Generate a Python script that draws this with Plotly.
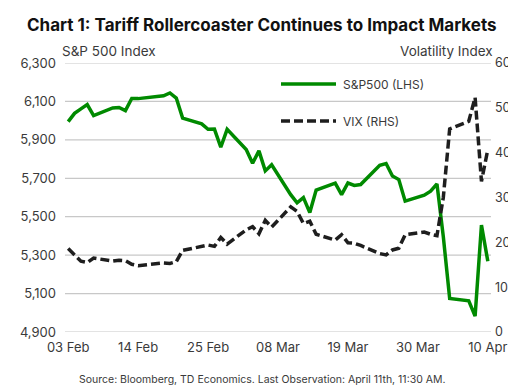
import plotly.graph_objects as go

dates = ["2025-02-03","2025-02-04","2025-02-05","2025-02-06","2025-02-07",
         "2025-02-10","2025-02-11","2025-02-12","2025-02-13","2025-02-14",
         "2025-02-18","2025-02-19","2025-02-20","2025-02-21",
         "2025-02-24","2025-02-25","2025-02-26","2025-02-27","2025-02-28",
         "2025-03-03","2025-03-04","2025-03-05","2025-03-06","2025-03-07",
         "2025-03-10","2025-03-11","2025-03-12","2025-03-13","2025-03-14",
         "2025-03-17","2025-03-18","2025-03-19","2025-03-20","2025-03-21",
         "2025-03-24","2025-03-25","2025-03-26","2025-03-27","2025-03-28",
         "2025-03-31","2025-04-01","2025-04-02","2025-04-03","2025-04-04",
         "2025-04-07","2025-04-08","2025-04-09","2025-04-10"]

sp500 = [5994.6,6037.9,6061.5,6083.6,6026.0,
         6066.4,6068.5,6052.0,6115.1,6114.6,
         6129.6,6144.2,6117.5,6013.1,
         5983.3,5955.3,5956.1,5861.6,5954.5,
         5849.7,5778.2,5842.6,5738.5,5770.2,
         5614.6,5572.1,5599.3,5521.5,5638.9,
         5675.1,5614.7,5675.3,5662.9,5667.6,
         5767.6,5776.7,5712.2,5693.3,5580.9,
         5611.9,5633.1,5671.0,5396.5,5074.1,
         5062.3,4982.8,5456.9,5268.1]

vix = [18.6,17.2,15.8,15.5,16.5,
       15.8,16.0,15.9,15.1,14.8,
       15.4,15.3,15.7,18.2,
       19.0,19.4,19.1,21.1,19.6,
       22.8,23.5,21.9,24.9,23.4,
       27.9,26.9,24.2,24.7,21.8,
       20.5,21.7,19.9,19.8,19.3,
       17.5,17.2,18.3,18.7,21.7,
       22.3,21.8,21.5,30.0,45.3,
       47.0,52.3,33.6,40.7]

sp_ticks = [4900, 5100, 5300, 5500, 5700, 5900, 6100, 6300]

tick_dates = ["2025-02-03","2025-02-14","2025-02-25","2025-03-08",
              "2025-03-19","2025-03-30","2025-04-10"]
tick_labels = ["03 Feb","14 Feb","25 Feb","08 Mar","19 Mar","30 Mar","10 Apr"]

GREEN = "#008a00"
DARK = "#1e1e1e"
TXT = "#3a3a3a"
FONT = "Inter"

fig = go.Figure()
fig.add_trace(go.Scatter(x=dates, y=sp500, mode="lines", name="S&P500 (LHS)",
                         line=dict(color=GREEN, width=3.5), yaxis="y"))
fig.add_trace(go.Scatter(x=dates, y=vix, mode="lines", name="VIX (RHS)",
                         line=dict(color=DARK, width=3.5, dash="9px,4px"), yaxis="y2"))

L, R, T, B = 57, 33, 55, 62
W, H = 516, 386
pw = W - L - R
ph = H - T - B

def px(xp):
    return (xp - L) / pw

def py(yp):
    return (H - B - yp) / ph

fig.update_layout(
    width=W, height=H,
    margin=dict(l=L, r=R, t=T, b=B, autoexpand=False),
    paper_bgcolor="white", plot_bgcolor="white",
    showlegend=False,
    font=dict(family=FONT, color=TXT, size=13),
    xaxis=dict(type="date", range=["2025-02-02 12:00", "2025-04-10 12:00"],
               tickvals=tick_dates, ticktext=tick_labels,
               showgrid=False, zeroline=False, showline=False,
               ticks="", ticklabelstandoff=6,
               tickfont=dict(size=13, color=TXT, family=FONT)),
    yaxis=dict(range=[4900, 6300], tickvals=sp_ticks, tickformat=",",
               showgrid=False, zeroline=False, showline=False, ticks="",
               ticklabelstandoff=8,
               tickfont=dict(size=13, color=TXT, family=FONT)),
    yaxis2=dict(range=[0, 60], tick0=0, dtick=10, overlaying="y", side="right",
                showgrid=False, zeroline=False, showline=False, ticks="",
                ticklabelstandoff=3,
                tickfont=dict(size=12.5, color=TXT, family=FONT)),
)

annotations = [
    dict(text="<b>Chart 1: Tariff Rollercoaster Continues to Impact Markets</b>",
         xref="paper", yref="paper", x=px(254), y=py(17), xanchor="center", yanchor="middle",
         showarrow=False, font=dict(size=17, color="#111111", family=FONT)),
    dict(text="S&P 500 Index", xref="paper", yref="paper", x=px(52), y=py(43),
         xanchor="left", yanchor="middle", showarrow=False,
         font=dict(size=13.5, color=TXT, family=FONT)),
    dict(text="Volatility Index", xref="paper", yref="paper", x=px(487), y=py(43),
         xanchor="right", yanchor="middle", showarrow=False,
         font=dict(size=13.5, color=TXT, family=FONT)),
    dict(text="Source: Bloomberg, TD Economics. Last Observation: April 11th, 11:30 AM.",
         xref="paper", yref="paper", x=px(254), y=py(371), xanchor="center", yanchor="middle",
         showarrow=False, font=dict(size=10.5, color=TXT, family=FONT)),
    dict(text="S&P500 (LHS)", xref="paper", yref="paper", x=px(333), y=py(76),
         xanchor="left", yanchor="middle", showarrow=False,
         font=dict(size=12, color=TXT, family=FONT)),
    dict(text="VIX (RHS)", xref="paper", yref="paper", x=px(333), y=py(113),
         xanchor="left", yanchor="middle", showarrow=False,
         font=dict(size=12, color=TXT, family=FONT)),
]
fig.update_layout(annotations=annotations)

shapes = [dict(type="line", xref="paper", yref="y", x0=0, x1=1, y0=v, y1=v,
               layer="below", line=dict(color="#c8c8c8", width=1.2))
          for v in sp_ticks]
shapes += [
    dict(type="line", xref="paper", yref="paper", x0=px(273), x1=px(328), y0=py(76), y1=py(76),
         line=dict(color=GREEN, width=3.5)),
    dict(type="line", xref="paper", yref="paper", x0=px(273), x1=px(328), y0=py(113), y1=py(113),
         line=dict(color=DARK, width=3.5, dash="9px,4px")),
]
fig.update_layout(shapes=shapes)

fig.write_html("out.html")
